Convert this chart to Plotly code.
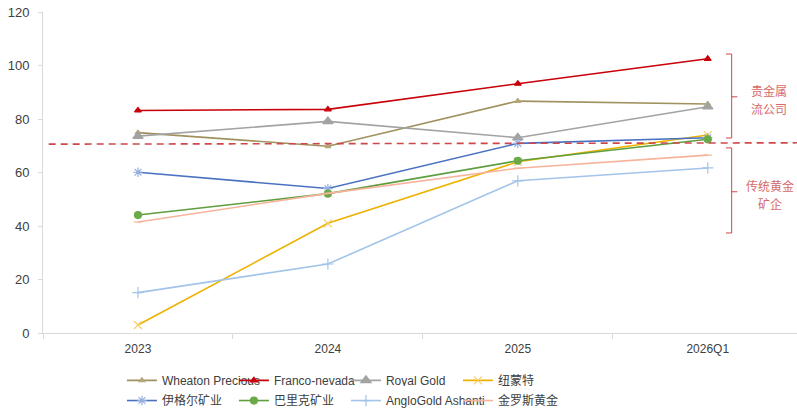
import plotly.graph_objects as go

categories = ["2023", "2024", "2025", "2026Q1"]

wheaton = [74.9, 69.8, 86.7, 85.6]
franco = [83.2, 83.6, 93.2, 102.5]
royal_gold = [73.6, 79.1, 73.0, 84.6]
newmont = [3.0, 41.0, 64.0, 74.0]
agnico = [60.1, 54.0, 70.9, 73.0]
barrick = [44.1, 52.1, 64.4, 72.4]
anglogold = [15.1, 25.8, 56.9, 61.7]
kinross = [41.5, 52.2, 61.6, 66.5]

series_names = ["Wheaton Precious", "Franco-nevada", "Royal Gold", "纽蒙特",
                "伊格尔矿业", "巴里克矿业", "AngloGold Ashanti", "金罗斯黄金"]
y_ticks = [0, 20, 40, 60, 80, 100, 120]
threshold = [70.6, 71.1]
group_label_lines = [["贵金属", "流公司"], ["传统黄金", "矿企"]]

styles = [
    dict(line="#A0925E", mcolor="#B3A77A", symbol="triangle-up", size=5),
    dict(line="#C8000A", mcolor="#C8000A", symbol="triangle-up", size=6),
    dict(line="#A3A3A3", mcolor="#A3A3A3", symbol="triangle-up", size=9),
    dict(line="#EDB100", mcolor="#F6CE6A", symbol="x-thin-open", size=8),
    dict(line="#4A72C0", mcolor="#94AEDF", symbol="asterisk-open", size=8),
    dict(line="#5E9E3E", mcolor="#6BAA48", symbol="circle", size=7),
    dict(line="#A2C4E8", mcolor="#A2C4E8", symbol="cross-thin-open", size=8),
    dict(line="#F7B39B", mcolor="#F7B39B", symbol="line-ew-open", size=6),
]

data = [wheaton, franco, royal_gold, newmont, agnico, barrick, anglogold, kinross]

FONT = "Liberation Sans, Arial, Noto Sans CJK SC, sans-serif"

fig = go.Figure()
for i, (name, vals, st) in enumerate(zip(series_names, data, styles)):
    fig.add_trace(go.Scatter(
        x=categories, y=vals, name=name, mode="lines+markers",
        legend="legend" if i < 4 else "legend2",
        line=dict(color=st["line"], width=1.6),
        marker=dict(symbol=st["symbol"], size=st["size"], color=st["mcolor"],
                    line=dict(color=st["mcolor"], width=1.2)),
    ))

red = "#D0474A"
shapes = [
    dict(type="line", xref="x", yref="y", x0=-0.47, x1=3.5, y0=threshold[0], y1=threshold[1],
         line=dict(color=red, width=1.6, dash="7px,5px")),
]
# brackets
for top, bot, mid in [(104.3, 72.9, 88.3), (69.2, 37.4, 52.8)]:
    bx = 3.126
    shapes += [
        dict(type="line", xref="x", yref="y", x0=bx, x1=bx, y0=bot, y1=top,
             line=dict(color=red, width=1)),
        dict(type="line", xref="x", yref="y", x0=bx - 0.03, x1=bx, y0=top, y1=top,
             line=dict(color=red, width=1)),
        dict(type="line", xref="x", yref="y", x0=bx - 0.03, x1=bx, y0=bot, y1=bot,
             line=dict(color=red, width=1)),
        dict(type="line", xref="x", yref="y", x0=bx, x1=bx + 0.03, y0=mid, y1=mid,
             line=dict(color=red, width=1)),
    ]

label_pos = [[(3.32, 90.8), (3.32, 84.1)], [(3.33, 55.0), (3.33, 48.6)]]
annotations = []
for lines, poss in zip(group_label_lines, label_pos):
    for txt, (ax, ay) in zip(lines, poss):
        annotations.append(dict(x=ax, y=ay, xref="x", yref="y", text=txt, showarrow=False,
                                font=dict(color="#D66A6A", size=12, family="Noto Sans CJK SC")))

legend_common = dict(orientation="h", xref="container", yref="container",
                     x=0.153, xanchor="left", yanchor="top",
                     entrywidth=67, entrywidthmode="pixels",
                     font=dict(size=12, color="#404040", family=FONT),
                     tracegroupgap=0, itemwidth=30)

fig.update_layout(
    width=797, height=412,
    margin=dict(l=43, r=0, t=12, b=79, autoexpand=False),
    paper_bgcolor="white", plot_bgcolor="white",
    font=dict(family=FONT, size=12, color="#404040"),
    showlegend=True,
    legend=dict(legend_common, y=0.112),
    legend2=dict(legend_common, y=0.063),
    shapes=shapes, annotations=annotations,
    xaxis=dict(type="category", range=[-0.5, 3.47], showgrid=False, automargin=False,
               showline=True, linecolor="#D9D9D9", linewidth=1,
               ticks="outside", tickson="boundaries", ticklen=5, tickcolor="#D9D9D9",
               ticklabelstandoff=5,
               tickfont=dict(size=12, color="#404040"), zeroline=False),
    yaxis=dict(range=[0, 120], tickvals=y_ticks, showgrid=False, automargin=False,
               showline=True, linecolor="#D9D9D9", linewidth=1,
               ticks="outside", ticklen=4, tickcolor="#D9D9D9",
               ticklabelstandoff=6,
               tickfont=dict(size=13, color="#404040"), zeroline=False),
)

fig.write_html("out.html", config={"displayModeBar": False},
               post_script="document.body.style.margin='0';document.body.style.overflow='hidden';")
